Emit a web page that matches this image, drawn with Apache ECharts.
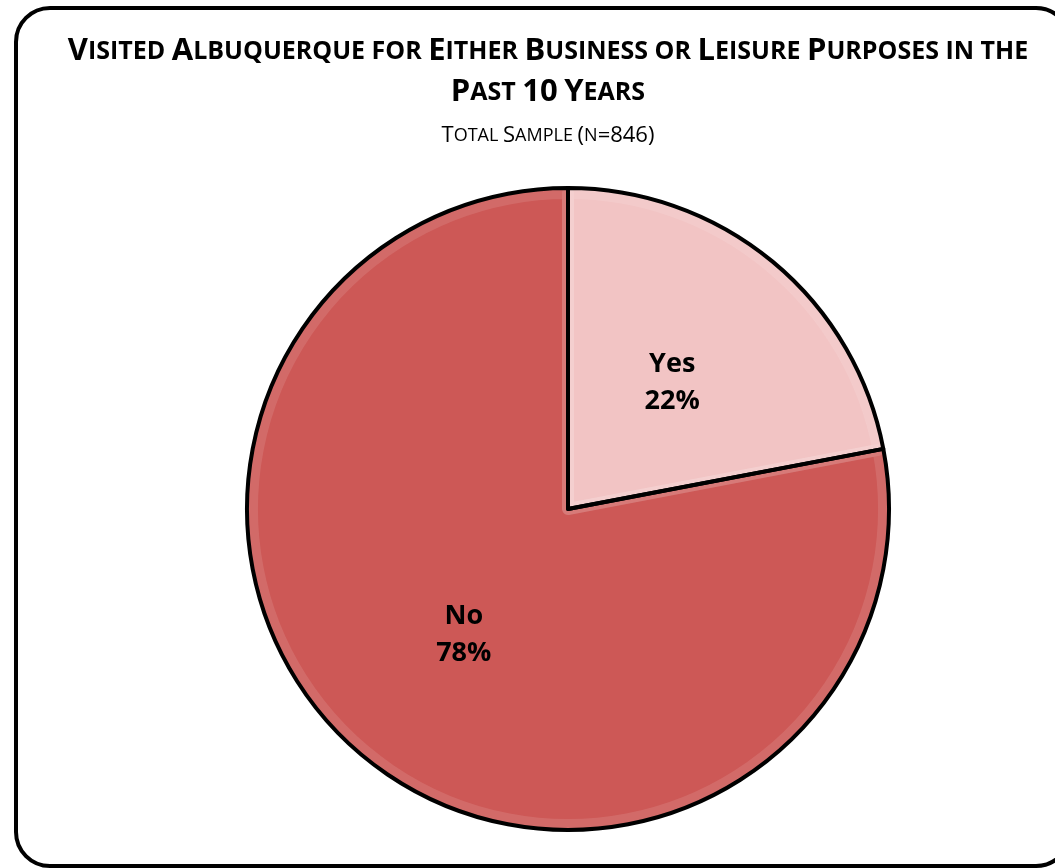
<!DOCTYPE html>
<html>
<head>
<meta charset="utf-8">
<script src="https://cdn.jsdelivr.net/npm/echarts@6/dist/echarts.min.js"></script>
<style>
  html, body { margin: 0; padding: 0; background: #fff; }
  #chart { width: 1055px; height: 868px; }
</style>
</head>
<body>
<div id="chart"></div>
<script>
// Survey answers and their shares (percent of total sample)
const categories = ['Yes', 'No'];
const shares = [22, 78];
const sliceColors = ['#F2C4C4', '#CD5856'];

// Title lines, written as small caps: capitals stay large, the rest shrink
const titleLine1 = ['Visited', 'Albuquerque', 'for', 'Either', 'Business', 'or', 'Leisure', 'Purposes', 'in', 'the'];
const titleLine2 = ['Past', '10', 'Years'];
const subtitleWords = ['Total', 'Sample', '(n=846)'];

// Turn a word list into rich-text small caps
function smallCaps(words, bigStyle, smallStyle) {
  return words.map(function (w) {
    let out = '';
    for (let i = 0; i < w.length; i++) {
      const ch = w[i];
      const isBig = (ch >= 'A' && ch <= 'Z') || (ch >= '0' && ch <= '9') || '()='.indexOf(ch) >= 0;
      out += '{' + (isBig ? bigStyle : smallStyle) + '|' + ch.toUpperCase() + '}';
    }
    return out;
  }).join('{' + smallStyle + '| }');
}

const FONT = '"Open Sans", "Noto Sans", sans-serif';
const CENTER = [568, 509];

const pieData = categories.map(function (c, i) {
  return { name: c, value: shares[i], itemStyle: { color: sliceColors[i] } };
});

const chart = echarts.init(document.getElementById('chart'), null, { renderer: 'canvas' });

const option = {
  backgroundColor: '#ffffff',
  graphic: [{
    type: 'rect',
    z: -1,
    shape: { x: 16, y: 8, width: 1054, height: 858, r: 34 },
    style: { fill: '#ffffff', stroke: '#000000', lineWidth: 4 }
  }],
  title: [{
    left: 543,
    top: 26,
    textAlign: 'center',
    text: smallCaps(titleLine1, 'b', 's') + '\n' + smallCaps(titleLine2, 'b', 's'),
    textStyle: {
      rich: {
        b: { fontFamily: FONT, fontWeight: 'bold', fontSize: 31, color: '#000', lineHeight: 41 },
        s: { fontFamily: FONT, fontWeight: 'bold', fontSize: 25, color: '#000', lineHeight: 41 }
      }
    }
  }, {
    left: 543,
    top: 117,
    textAlign: 'center',
    text: smallCaps(subtitleWords, 'B', 'S'),
    textStyle: {
      rich: {
        B: { fontFamily: FONT, fontWeight: 'normal', fontSize: 22, color: '#000', lineHeight: 28 },
        S: { fontFamily: FONT, fontWeight: 'normal', fontSize: 18, color: '#000', lineHeight: 28 }
      }
    }
  }],
  series: [{
    // slice fills with value labels
    type: 'pie',
    center: CENTER,
    radius: [0, 321],
    startAngle: 90,
    clockwise: true,
    animation: false,
    silent: true,
    itemStyle: { borderWidth: 0 },
    label: {
      show: true,
      position: 'inside',
      formatter: '{b}\n{c}%',
      fontFamily: FONT,
      fontWeight: 'bold',
      fontSize: 27,
      lineHeight: 37,
      color: '#000'
    },
    labelLine: { show: false },
    data: pieData
  }, {
    // soft bevel highlight just inside each slice edge
    type: 'pie',
    center: CENTER,
    radius: [0, 316],
    startAngle: 90,
    clockwise: true,
    animation: false,
    silent: true,
    itemStyle: { color: 'rgba(0,0,0,0)', borderColor: 'rgba(255,255,255,0.11)', borderWidth: 12 },
    label: { show: false },
    labelLine: { show: false },
    data: categories.map(function (c, i) { return { name: c, value: shares[i] }; })
  }, {
    // black slice outlines
    type: 'pie',
    center: CENTER,
    radius: [0, 321],
    startAngle: 90,
    clockwise: true,
    animation: false,
    silent: true,
    itemStyle: { color: 'rgba(0,0,0,0)', borderColor: '#000000', borderWidth: 4 },
    label: { show: false },
    labelLine: { show: false },
    data: categories.map(function (c, i) { return { name: c, value: shares[i] }; })
  }]
};

chart.setOption(option);
</script>
</body>
</html>
